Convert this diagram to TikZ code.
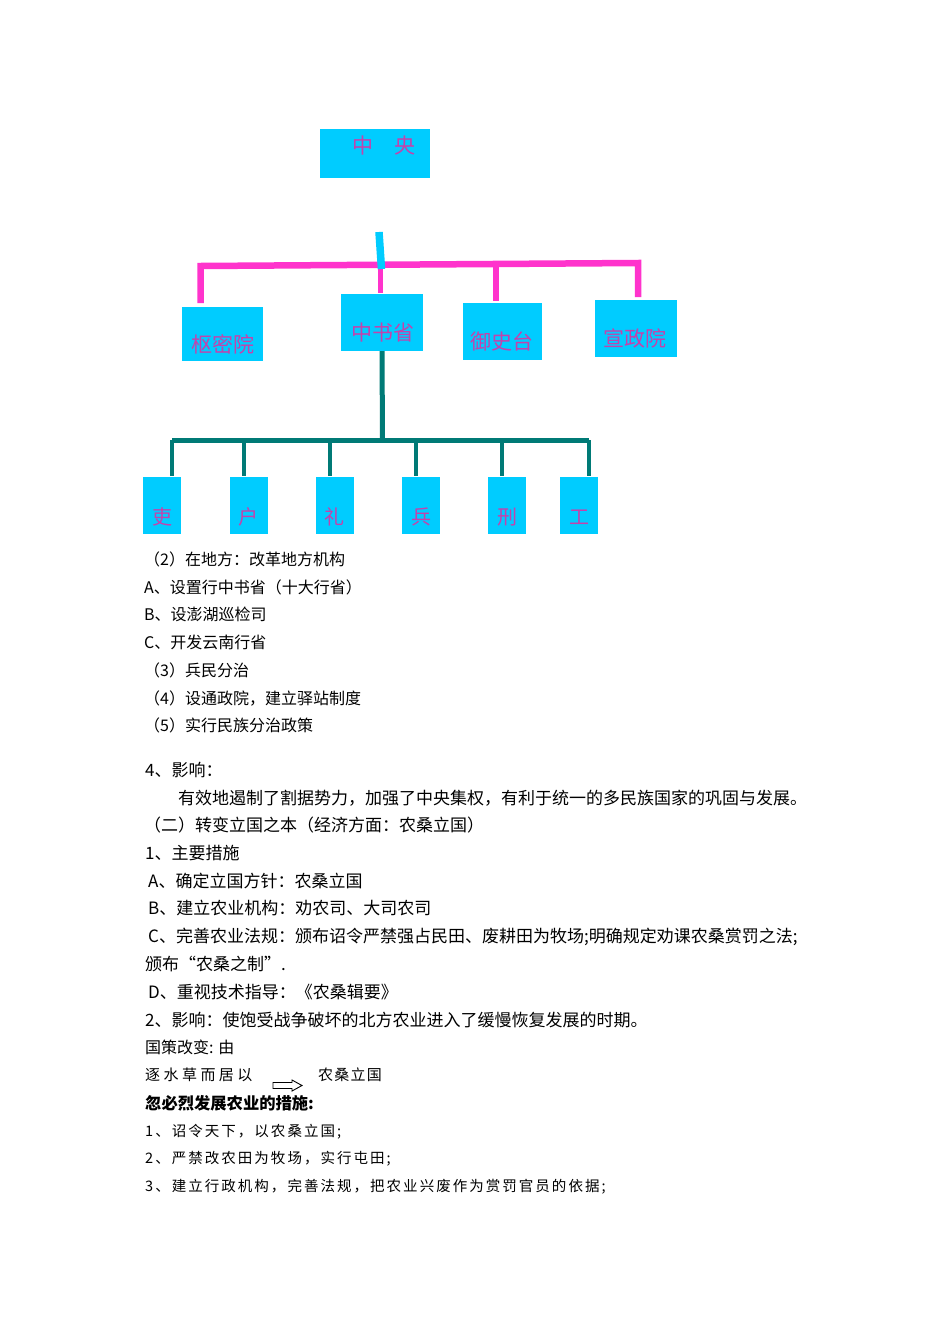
\documentclass[tikz,border=0pt]{standalone}
\usepackage{fontspec}
\setmainfont{Noto Sans CJK SC}
\definecolor{boxcyan}{RGB}{0,204,255}
\definecolor{linkpink}{RGB}{255,51,204}
\definecolor{boxtext}{RGB}{196,66,172}
\definecolor{tealline}{RGB}{0,122,118}
\tikzset{
  cbox/.style={fill=boxcyan, draw=none, inner sep=0, anchor=center},
  btxt/.style={text=boxtext, font=\fontsize{21}{21}\selectfont, inner sep=0, anchor=center},
  pinkline/.style={draw=linkpink, line width=6.5pt},
  tealthick/.style={draw=tealline, line width=5pt},
  tealthin/.style={draw=tealline, line width=4pt},
  lnA/.style={anchor=base west, inner sep=0, font=\fontsize{16}{16}\selectfont},
  lnB/.style={anchor=base west, inner sep=0, font=\fontsize{17}{17}\selectfont},
  lnS/.style={anchor=base west, inner sep=0, font=\fontsize{14.5}{14.5}\selectfont\addfontfeatures{LetterSpace=14}},
  lnW/.style={anchor=base west, inner sep=0, font=\fontsize{15}{15}\selectfont\addfontfeatures{LetterSpace=23}},
  lnN/.style={anchor=base west, inner sep=0, font=\fontsize{15}{15}\selectfont\addfontfeatures{LetterSpace=8}},
  lnBold/.style={anchor=base west, inner sep=0, font=\fontsize{16.3}{16.3}\selectfont\bfseries},
}
\begin{document}
\begin{tikzpicture}[x=1pt,y=-1pt]
\useasboundingbox[fill=white] (0,0) rectangle (950,1344);

% top level boxes
\node[cbox, minimum width=110pt, minimum height=49pt] (zy) at (375,153.5) {};
\node[btxt] (zyt) at (383.5,146) {中\hspace{1em}央};

\node[cbox, minimum width=81pt, minimum height=54pt] (smy) at (222.5,334) {};
\node[btxt] (smyt) at (223,344) {枢密院};
\node[cbox, minimum width=82pt, minimum height=57pt] (zsx) at (382,322.5) {};
\node[btxt] (zsxt) at (383,333) {中书省};
\node[cbox, minimum width=79pt, minimum height=57pt] (yst) at (502.5,331.5) {};
\node[btxt] (ystt) at (502,341) {御史台};
\node[cbox, minimum width=82pt, minimum height=57pt] (xzy) at (636,328.5) {};
\node[btxt] (xzyt) at (635,338) {宣政院};

% pink connectors
\coordinate (pl) at (200.5,266);
\coordinate (pr) at (638,263);
\coordinate (pm) at (380.5,265);
\coordinate (py) at (496,264.5);
\draw[pinkline] (200.5,303) -- (pl) -- (pr) -- (638,297);
\draw[pinkline, line width=5.5pt] (pm) -- (380.5,293);
\draw[pinkline, line width=5.5pt] (py) -- (496,301);
% cyan stub
\coordinate (cs1) at (379,232);
\coordinate (cs2) at (381.5,269);
\draw[draw=boxcyan, line width=7.5pt] (cs1) -- (cs2);

% six ministries
\foreach \n/\x/\t in {li/162/吏, hu/248.5/户, lii/334.5/礼, bing/421/兵, xing/507/刑, gong/579/工}{
  \node[cbox, minimum width=38pt, minimum height=57pt] (\n) at (\x,505.5) {};
  \node[btxt, font=\fontsize{20}{20}\selectfont] (\n t) at (\x,517) {\t};
}
\coordinate (tb) at (382.5,440);
\coordinate (tl) at (172,440);
\coordinate (tr) at (589,440);
\draw[tealthick] (zsx.south) -- (tb);
\draw[tealthick] (tl) -- (tr);
\foreach \x in {172,244,330,416,502,589}{
  \draw[tealthin] (\x,440) -- (\x,476);
}

% text block 1
\node[lnA] (a1) at (144,565) {（2）在地方：改革地方机构};
\node[lnA] (a2) at (144,593) {A、设置行中书省（十大行省）};
\node[lnA] (a3) at (144,620) {B、设澎湖巡检司};
\node[lnA] (a4) at (144,648) {C、开发云南行省};
\node[lnA] (a5) at (144,676) {（3）兵民分治};
\node[lnA] (a6) at (144,704) {（4）设通政院，建立驿站制度};
\node[lnA] (a7) at (144,731) {（5）实行民族分治政策};

% text block 2
\node[lnB] (b1) at (145,776.5) {4、影响：};
\node[lnB] (b2) at (178,804.5) {有效地遏制了割据势力，加强了中央集权，有利于统一的多民族国家的巩固与发展。};
\node[lnB] (b3) at (144,831.5) {（二）转变立国之本（经济方面：农桑立国）};
\node[lnB] (b4) at (145,859.5) {1、主要措施};
\node[lnB] (b5) at (148,887.5) {A、确定立国方针：农桑立国};
\node[lnB] (b6) at (148,914.5) {B、建立农业机构：劝农司、大司农司};
\node[lnB] (b7) at (148,942.5) {C、完善农业法规：颁布诏令严禁强占民田、废耕田为牧场;明确规定劝课农桑赏罚之法;};
\node[lnB] (b8) at (145,970.5) {颁布“农桑之制”.};
\node[lnB] (b9) at (148,998.5) {D、重视技术指导：《农桑辑要》};
\node[lnB] (b10) at (145,1026.5) {2、影响：使饱受战争破坏的北方农业进入了缓慢恢复发展的时期。};

% text block 3
\node[lnA] (c1) at (145,1053) {国策改变: 由};
\node[lnW] (c2) at (145,1080.5) {逐水草而居以};
\node[lnN] (c3) at (318,1080.5) {农桑立国};
\draw[line width=0.9pt, line join=miter] (273,1082.5) -- (292,1082.5) -- (292,1080) -- (302,1085.5) -- (292,1091) -- (292,1088.5) -- (273,1088.5) -- cycle;
\node[lnBold] (c4) at (145,1109) {忽必烈发展农业的措施:};
\node[lnS] (c5) at (145,1136.5) {1、诏令天下，以农桑立国;};
\node[lnS] (c6) at (145,1163.5) {2、严禁改农田为牧场，实行屯田;};
\node[lnS] (c7) at (145,1191.5) {3、建立行政机构，完善法规，把农业兴废作为赏罚官员的依据;};
\end{tikzpicture}
\end{document}
